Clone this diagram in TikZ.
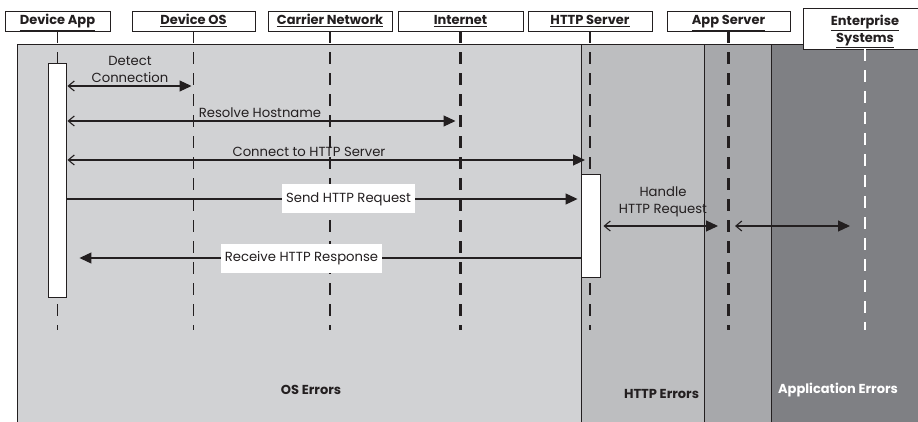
\documentclass[tikz,border=0pt]{standalone}
\usepackage{fontspec}
\setmainfont{Poppins}
\usetikzlibrary{arrows.meta}

\definecolor{ink}{HTML}{231F20}
\definecolor{osgray}{HTML}{D1D2D4}
\definecolor{httpgray}{HTML}{BDBEC0}
\definecolor{appgray}{HTML}{A7A8AB}
\definecolor{entgray}{HTML}{7F8084}

\begin{document}
\begin{tikzpicture}[x=1pt,y=-1pt,
	head/.style={draw=ink,fill=white,line width=0.9pt,minimum height=20pt,inner sep=1pt,
		text=ink,align=center,font=\bfseries\fontsize{13}{17}\selectfont},
	headone/.style={head,text height=11pt,text depth=3pt},
	life/.style={draw=ink,dash pattern=on 12pt off 9pt,line width=1.2pt},
	lifebold/.style={life,line width=2.4pt},
	act/.style={draw=ink,fill=white,line width=0.9pt,inner sep=0pt},
	msg/.style={draw=ink,line width=1.1pt,{Straight Barb[length=6pt,width=10pt]}-{Triangle[length=12pt,width=11pt]}},
	lbl/.style={text=ink,align=center,inner sep=1pt,font=\fontsize{13.2}{17}\selectfont},
	box/.style={lbl,fill=white,inner xsep=4pt,minimum height=29pt},
	zone/.style={text=ink,font=\bfseries\fontsize{13}{15}\selectfont}]
	\useasboundingbox (0,0) rectangle (918,422);
	
	%REGIONS
	\filldraw[fill=osgray,draw=ink,line width=0.9pt] (17,44) rectangle (581,430);
	\filldraw[fill=httpgray,draw=ink,line width=0.9pt] (581,44) rectangle (704,430);
	\filldraw[fill=appgray,draw=ink,line width=0.9pt] (704,44) rectangle (771,430);
	\filldraw[fill=entgray,draw=ink,line width=0.9pt] (771,44) rectangle (930,430);
	
	%HEADERS
	\node[headone,minimum width=105pt] (app) at (57.5,21) {\underline{Device App}};
	\node[headone,minimum width=123pt] (os) at (193.5,21) {\underline{Device OS}};
	\node[headone,minimum width=124pt] (carrier) at (330,21) {\underline{Carrier Network}};
	\node[headone,minimum width=125pt] (inet) at (460.5,21) {\underline{Internet}};
	\node[headone,minimum width=124pt] (http) at (590,21) {\underline{HTTP Server}};
	\node[headone,minimum width=123pt] (appsrv) at (728.5,21) {\underline{App Server}};
	\node[head,text depth=0pt,minimum width=124pt,minimum height=41pt] (ent) at (865,28.5) {\underline{Enterprise}\\\underline{Systems}};
	
	%LIFELINES
	\coordinate (bot) at (0,330);
	\draw[life] (app.south) -- (app.south |- bot);
	\draw[life] (os.south) -- (os.south |- bot);
	\draw[life] (carrier.south) -- (carrier.south |- bot);
	\draw[lifebold] (inet.south) -- (inet.south |- bot);
	\draw[lifebold] (http.south) -- (http.south |- bot);
	\draw[lifebold] (appsrv.south) -- (appsrv.south |- bot);
	\draw[lifebold,draw=white] (ent.south) -- (ent.south |- bot);
	
	%ACTIVATIONS
	\node[act,minimum width=18pt,minimum height=234pt] (act1) at (57,180) {};
	\node[act,minimum width=19pt,minimum height=103pt] (act2) at (590.5,225.5) {};
	
	%MESSAGES
	\coordinate (r1) at (0,86);
	\coordinate (r2) at (0,121);
	\coordinate (r3) at (0,160);
	\coordinate (r4) at (0,199);
	\coordinate (r5) at (0,258);
	\coordinate (r6) at (0,226);
	\draw[msg,shorten <=1pt,shorten >=2pt] (act1.east |- r1) -- (os.south |- r1);
	\draw[msg,shorten <=1pt,shorten >=5pt] (act1.east |- r2) -- (inet.south |- r2);
	\draw[msg,shorten <=1pt,shorten >=5pt] (act1.east |- r3) -- (http.south |- r3);
	\draw[draw=ink,line width=1.1pt,-{Triangle[length=12pt,width=11pt]},shorten >=3pt] (act1.east |- r4) -- (act2.west |- r4);
	\draw[draw=ink,line width=1.1pt,-{Triangle[length=12pt,width=11pt]},shorten >=13pt] (act2.west |- r5) -- (act1.east |- r5);
	\draw[msg,shorten <=3pt,shorten >=10.5pt] (act2.east |- r6) -- (appsrv.south |- r6);
	\draw[msg,shorten <=6.5pt,shorten >=15pt] (appsrv.south |- r6) -- (ent.south |- r6);
	
	%LABELS
	\node[lbl] (detect) at (130,69.5) {Detect\\Connection};
	\node[lbl] (resolve) at (260,113) {Resolve Hostname};
	\node[lbl] (connect) at (309,152) {Connect to HTTP Server};
	\node[box] (send) at (348.5,199) {Send HTTP Request};
	\node[box] (receive) at (301.5,258) {Receive HTTP Response};
	\node[lbl] (handle) at (663,202) {Handle\\HTTP Request};
	
	\node[zone] (oserr) at (311,390) {OS Errors};
	\node[zone] (httperr) at (661.5,394) {HTTP Errors};
	\node[zone,text=white] (apperr) at (838,390) {Application Errors};
\end{tikzpicture}
\end{document}
